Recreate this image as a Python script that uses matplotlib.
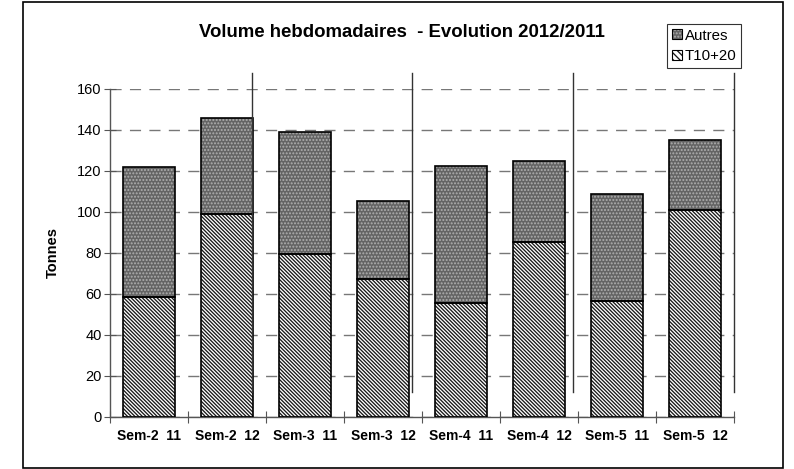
import matplotlib
matplotlib.use('Agg')
import matplotlib.pyplot as plt
from matplotlib.patches import Patch, Rectangle

plt.rcParams['font.family'] = ['Liberation Sans', 'DejaVu Sans']
plt.rcParams['hatch.linewidth'] = 0.95

# data
categories = ['Sem-2  11', 'Sem-2  12', 'Sem-3  11', 'Sem-3  12',
              'Sem-4  11', 'Sem-4  12', 'Sem-5  11', 'Sem-5  12']
t10_20 = [58.5, 99.0, 79.5, 67.3, 55.6, 85.4, 56.6, 101.0]
autres = [63.5, 46.8, 59.5, 38.1, 66.8, 39.5, 52.2, 34.1]
y_ticks = [0, 20, 40, 60, 80, 100, 120, 140, 160]

# decorative separators (category units), as in the original sheet
sep_x = [1.32, 3.37, 5.44, 7.5]

HATCH_T10 = '\\' * 9
HATCH_AUT = '.' * 5

fig = plt.figure(figsize=(7.94, 4.69), dpi=100)
fig.patch.set_facecolor('white')
fig.patches.append(Rectangle((23 / 794, 1 - 468 / 469), 760 / 794, 466 / 469,
                             transform=fig.transFigure, fill=False,
                             edgecolor='black', linewidth=1.2))

ax = fig.add_axes([0.1385, 0.1109, 0.786, 0.6994])
x = list(range(len(categories)))
w = 0.67

# T10+20: white with dense black diagonals
ax.bar(x, t10_20, width=w, color='white', linewidth=0, zorder=2)
ax.bar(x, t10_20, width=w, color='none', hatch=HATCH_T10, edgecolor='#1a1a1a',
       linewidth=0, zorder=3)
ax.bar(x, t10_20, width=w, color='none', edgecolor='black', linewidth=1.2, zorder=4)

# Autres: grey with fine light dots
ax.bar(x, autres, bottom=t10_20, width=w, color='#646464', linewidth=0, zorder=2)
ax.bar(x, autres, bottom=t10_20, width=w, color='none', hatch=HATCH_AUT,
       edgecolor='#b0b0b0', linewidth=0, zorder=3)
ax.bar(x, autres, bottom=t10_20, width=w, color='none', edgecolor='black',
       linewidth=1.2, zorder=4)

for sx in sep_x:
    ax.plot([sx, sx], [12, 168], color='#333333', linewidth=1.0,
            clip_on=False, zorder=5)

ax.set_xlim(-0.5, 7.5)
ax.set_ylim(0, 160)
ax.set_yticks(y_ticks)
ax.set_yticklabels([str(v) for v in y_ticks], fontsize=10.5)
ax.set_xticks([i + 0.5 for i in range(-1, 8)], minor=False)
ax.set_xticklabels([])
ax.set_xticks(x, minor=True)
ax.set_xticklabels(categories, minor=True, fontsize=10, fontweight='bold')
ax.tick_params(axis='x', which='minor', length=0, pad=9)
ax.tick_params(axis='x', which='major', direction='inout', length=8,
               color='#555555')
ax.tick_params(axis='y', direction='inout', length=8, color='#555555', pad=2)

for s in ['top', 'right']:
    ax.spines[s].set_visible(False)
for s in ['left', 'bottom']:
    ax.spines[s].set_color('#555555')
    ax.spines[s].set_linewidth(1.0)

ax.yaxis.grid(True, linestyle=(0, (8, 6)), color='#777777', linewidth=1.0)
ax.set_axisbelow(True)

ax.set_ylabel('Tonnes', fontsize=10.5, fontweight='bold', labelpad=12)

fig.text(0.506, 0.93, 'Volume hebdomadaires  - Evolution 2012/2011',
         ha='center', va='center', fontsize=13.4, fontweight='bold')

h_autres = (Patch(facecolor='#646464', edgecolor='none'),
            Patch(facecolor='none', hatch=HATCH_AUT, edgecolor='#b0b0b0', linewidth=0),
            Patch(facecolor='none', edgecolor='black', linewidth=0.8))
h_t10 = (Patch(facecolor='white', edgecolor='none'),
         Patch(facecolor='none', hatch='\\' * 5, edgecolor='#1a1a1a', linewidth=0),
         Patch(facecolor='none', edgecolor='black', linewidth=0.8))
leg = fig.legend([h_autres, h_t10], ['Autres', 'T10+20'],
                 loc='upper left', bbox_to_anchor=(667 / 794, 1 - 24 / 469),
                 fontsize=10.8, frameon=True, fancybox=False,
                 handlelength=0.7, handleheight=0.7, handletextpad=0.2,
                 borderpad=0.3, labelspacing=0.45, borderaxespad=0)
leg.get_frame().set_edgecolor('black')
leg.get_frame().set_linewidth(0.8)

fig.savefig('out.png', dpi=100, facecolor='white')
